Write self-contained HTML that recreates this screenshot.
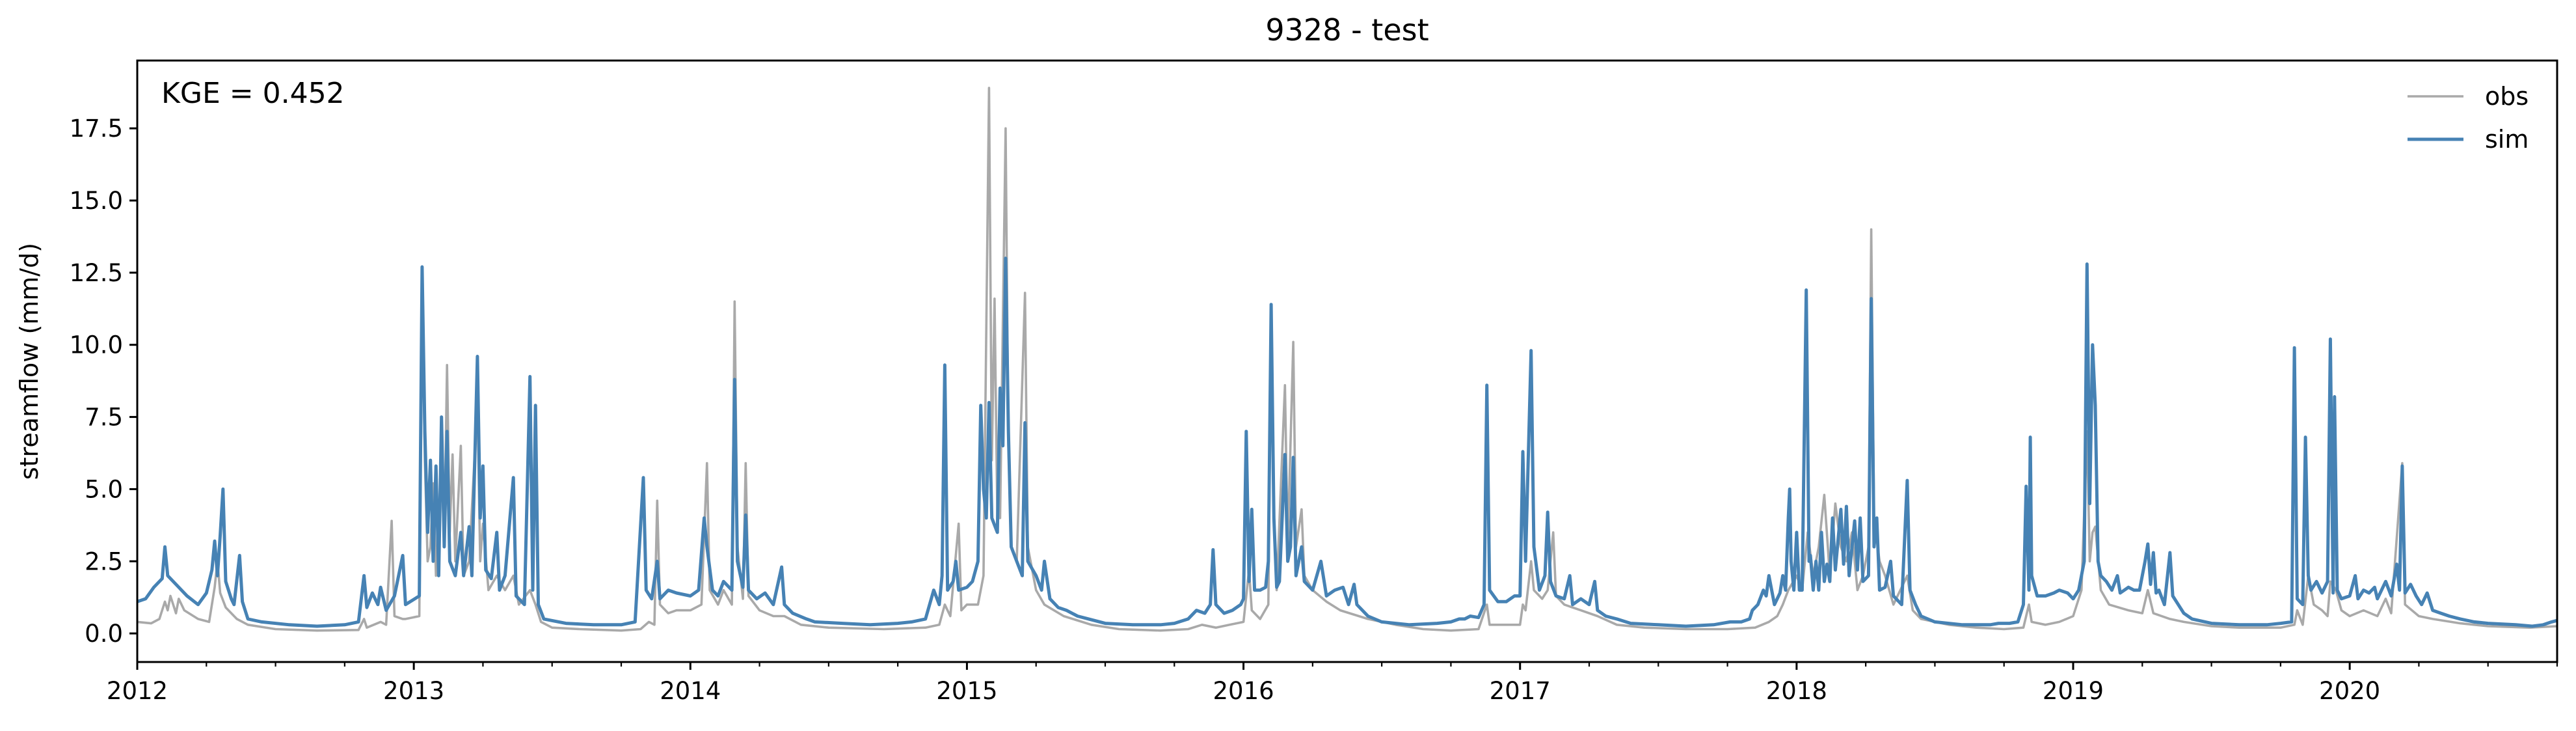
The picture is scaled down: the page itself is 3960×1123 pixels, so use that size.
<!DOCTYPE html>
<html><head><meta charset="utf-8"><style>
html,body{margin:0;padding:0;background:#fff;}
svg text{font-family:"DejaVu Sans","Liberation Sans",sans-serif;fill:#000;}
</style></head><body>
<svg id="chart" width="3960" height="1118" viewBox="0 0 3960 1118" xmlns="http://www.w3.org/2000/svg">
<rect width="3960" height="1118" fill="#fff"/>
<text x="2071" y="62" font-size="46" text-anchor="middle">9328 - test</text>
<text transform="translate(58,555) rotate(-90)" font-size="38" text-anchor="middle">streamflow (mm/d)</text>
<g id="plot"></g>
<g id="xaxis"></g>
<g id="yaxis"></g>
<rect x="211" y="93" width="3720" height="924" fill="none" stroke="#000" stroke-width="3"/>
<text x="248" y="158" font-size="44">KGE = 0.452</text>
<g>
<line x1="3701" y1="148" x2="3787" y2="148" stroke="#a9a9a9" stroke-width="3.5"/>
<text x="3820" y="161" font-size="38">obs</text>
<line x1="3701" y1="214" x2="3787" y2="214" stroke="#4682b4" stroke-width="5"/>
<text x="3820" y="227" font-size="38">sim</text>
</g>
</svg>
<script>
const yTicks=[0,2.5,5,7.5,10,12.5,15,17.5];
const yTickLabels=["0.0","2.5","5.0","7.5","10.0","12.5","15.0","17.5"];
const xYears=[2012,2013,2014,2015,2016,2017,2018,2019,2020];
const simT=[2012.00,2012.03,2012.06,2012.09,2012.10,2012.11,2012.15,2012.18,2012.22,2012.25,2012.27,2012.28,2012.29,2012.30,2012.31,2012.32,2012.34,2012.35,2012.37,2012.38,2012.40,2012.45,2012.55,2012.65,2012.75,2012.80,2012.82,2012.83,2012.85,2012.87,2012.88,2012.90,2012.93,2012.96,2012.97,
2013.02,2013.03,2013.04,2013.05,2013.06,2013.07,2013.08,2013.09,2013.10,2013.11,2013.12,2013.13,2013.15,2013.17,2013.18,2013.20,2013.21,2013.23,2013.24,2013.25,2013.26,2013.28,2013.30,2013.31,2013.33,2013.36,2013.37,2013.40,2013.42,2013.43,2013.44,2013.45,2013.47,2013.55,2013.65,2013.75,2013.80,2013.83,2013.84,2013.86,2013.88,2013.89,2013.92,2013.95,
2014.00,2014.03,2014.05,2014.06,2014.08,2014.10,2014.12,2014.15,2014.16,2014.17,2014.19,2014.20,2014.21,2014.24,2014.27,2014.30,2014.33,2014.34,2014.37,2014.42,2014.45,2014.55,2014.65,2014.75,2014.80,2014.85,2014.88,2014.90,2014.91,2014.92,2014.93,2014.95,2014.96,2014.97,
2015.00,2015.02,2015.04,2015.05,2015.06,2015.07,2015.08,2015.09,2015.11,2015.12,2015.13,2015.14,2015.15,2015.16,2015.18,2015.20,2015.21,2015.22,2015.25,2015.27,2015.28,2015.30,2015.33,2015.36,2015.40,2015.44,2015.50,2015.60,2015.70,2015.75,2015.80,2015.83,2015.86,2015.88,2015.89,2015.90,2015.93,2015.96,2015.99,
2016.00,2016.01,2016.02,2016.03,2016.04,2016.06,2016.08,2016.09,2016.10,2016.11,2016.12,2016.13,2016.15,2016.16,2016.17,2016.18,2016.19,2016.21,2016.22,2016.25,2016.28,2016.30,2016.33,2016.36,2016.38,2016.40,2016.41,2016.45,2016.50,2016.60,2016.70,2016.75,2016.78,2016.80,2016.82,2016.85,2016.87,2016.88,2016.89,2016.92,2016.95,2016.98,
2017.00,2017.01,2017.02,2017.04,2017.05,2017.07,2017.09,2017.10,2017.11,2017.13,2017.16,2017.18,2017.19,2017.22,2017.25,2017.27,2017.28,2017.31,2017.35,2017.40,2017.50,2017.60,2017.70,2017.76,2017.80,2017.83,2017.84,2017.86,2017.88,2017.89,2017.90,2017.92,2017.94,2017.95,2017.96,2017.97,2017.975,2017.98,2017.99,
2018.00,2018.01,2018.02,2018.035,2018.045,2018.05,2018.06,2018.07,2018.08,2018.09,2018.10,2018.11,2018.12,2018.13,2018.14,2018.16,2018.17,2018.18,2018.19,2018.21,2018.22,2018.23,2018.24,2018.26,2018.27,2018.28,2018.29,2018.30,2018.32,2018.34,2018.35,2018.38,2018.40,2018.41,2018.43,2018.45,2018.50,2018.60,2018.70,2018.73,2018.77,2018.80,2018.82,2018.83,2018.84,2018.845,2018.85,2018.87,2018.90,2018.93,2018.95,2018.98,
2019.00,2019.02,2019.04,2019.05,2019.06,2019.07,2019.08,2019.09,2019.10,2019.12,2019.14,2019.16,2019.17,2019.20,2019.22,2019.24,2019.26,2019.27,2019.28,2019.29,2019.30,2019.31,2019.33,2019.35,2019.36,2019.38,2019.40,2019.43,2019.50,2019.60,2019.70,2019.75,2019.79,2019.80,2019.81,2019.83,2019.84,2019.85,2019.86,2019.88,2019.90,2019.92,2019.93,2019.94,2019.945,2019.955,2019.97,
2020.00,2020.02,2020.03,2020.05,2020.07,2020.09,2020.10,2020.13,2020.15,2020.17,2020.18,2020.19,2020.20,2020.22,2020.24,2020.26,2020.28,2020.30,2020.33,2020.36,2020.40,2020.45,2020.50,2020.60,2020.66,2020.70,2020.73,2020.75];
const simV=[1.1,1.2,1.6,1.9,3.0,2.0,1.6,1.3,1.0,1.4,2.2,3.2,2.0,3.4,5.0,1.8,1.2,1.0,2.7,1.1,0.5,0.4,0.3,0.25,0.3,0.4,2.0,0.9,1.4,1.0,1.6,0.8,1.3,2.7,1.0,
1.3,12.7,7,3.5,6.0,2.5,5.8,2.0,7.5,3.0,7.0,2.5,2.0,3.5,2.0,3.7,2.0,9.6,4,5.8,2.2,1.9,3.5,1.5,2.0,5.4,1.3,1.0,8.9,1.5,7.9,1.0,0.5,0.35,0.3,0.3,0.4,5.4,1.5,1.2,2.5,1.2,1.5,1.4,
1.3,1.5,4.0,3.0,1.5,1.3,1.8,1.5,8.8,2.5,1.6,4.1,1.5,1.2,1.4,1.0,2.3,1.0,0.7,0.5,0.4,0.35,0.3,0.35,0.4,0.5,1.5,1.0,2.0,9.3,1.5,1.8,2.5,1.5,
1.6,1.8,2.5,7.9,5,4,8.0,4.0,3.5,8.5,6.5,13.0,7.0,3.0,2.5,2.0,7.3,2.5,2.0,1.5,2.5,1.2,0.9,0.8,0.6,0.5,0.35,0.3,0.3,0.35,0.5,0.8,0.7,1.0,2.9,1.0,0.7,0.8,1.0,
1.2,7.0,1.8,4.3,1.5,1.5,1.6,2.5,11.4,4.0,1.6,1.8,6.2,2.5,3.0,6.1,2.0,3.0,1.8,1.5,2.5,1.3,1.5,1.6,1.0,1.7,1.0,0.6,0.4,0.3,0.35,0.4,0.5,0.5,0.6,0.55,1.0,8.6,1.5,1.1,1.1,1.3,
1.3,6.3,2.5,9.8,3.0,1.5,2.0,4.2,1.8,1.3,1.2,2.0,1.0,1.2,1.0,1.8,0.8,0.6,0.5,0.35,0.3,0.25,0.3,0.4,0.4,0.5,0.8,1.0,1.5,1.3,2.0,1.0,1.4,2.0,1.5,4.0,5.0,2.5,1.5,
3.5,1.5,1.5,11.9,2.5,2.7,1.5,2.5,1.5,3.5,1.8,2.4,1.8,4.0,2.2,4.3,2.4,4.4,2.0,3.9,2.2,4.0,1.8,2.0,11.6,3.0,4.0,1.5,1.6,2.5,1.3,1.0,5.3,1.5,1.0,0.6,0.4,0.3,0.3,0.35,0.35,0.4,1.0,5.1,1.5,6.8,2.0,1.3,1.3,1.4,1.5,1.4,
1.2,1.5,2.5,12.8,4.5,10.0,7.9,2.5,2.0,1.8,1.5,2.0,1.4,1.6,1.5,1.5,2.5,3.1,1.7,2.8,1.4,1.5,1.0,2.8,1.3,1.0,0.7,0.5,0.35,0.3,0.3,0.35,0.4,9.9,1.2,1.0,6.8,2.0,1.5,1.8,1.4,1.8,10.2,1.4,8.2,1.5,1.2,
1.3,2.0,1.2,1.5,1.4,1.6,1.2,1.8,1.3,2.4,1.5,5.8,1.4,1.7,1.3,1.0,1.4,0.8,0.7,0.6,0.5,0.4,0.35,0.3,0.25,0.3,0.4,0.45];
const obsT=[2012.00,2012.05,2012.08,2012.10,2012.11,2012.12,2012.14,2012.15,2012.17,2012.22,2012.26,2012.28,2012.29,2012.30,2012.32,2012.36,2012.40,2012.50,2012.65,2012.80,2012.82,2012.83,2012.88,2012.90,2012.92,2012.93,2012.96,2012.97,
2013.02,2013.03,2013.04,2013.05,2013.06,2013.07,2013.08,2013.10,2013.11,2013.12,2013.13,2013.14,2013.15,2013.17,2013.18,2013.20,2013.23,2013.24,2013.25,2013.27,2013.30,2013.33,2013.36,2013.38,2013.42,2013.44,2013.46,2013.50,2013.60,2013.75,2013.82,2013.85,2013.87,2013.88,2013.89,2013.92,2013.95,
2014.00,2014.04,2014.06,2014.07,2014.10,2014.12,2014.15,2014.16,2014.17,2014.19,2014.20,2014.21,2014.25,2014.30,2014.34,2014.40,2014.50,2014.70,2014.85,2014.90,2014.92,2014.94,2014.97,2014.98,
2015.00,2015.04,2015.06,2015.08,2015.09,2015.10,2015.11,2015.12,2015.14,2015.15,2015.16,2015.18,2015.21,2015.22,2015.25,2015.28,2015.35,2015.45,2015.55,2015.70,2015.80,2015.85,2015.90,2015.95,
2016.00,2016.02,2016.03,2016.06,2016.09,2016.10,2016.11,2016.12,2016.15,2016.16,2016.18,2016.19,2016.21,2016.22,2016.25,2016.30,2016.35,2016.45,2016.55,2016.65,2016.75,2016.85,2016.88,2016.89,2016.95,
2017.00,2017.01,2017.02,2017.04,2017.05,2017.08,2017.10,2017.12,2017.13,2017.16,2017.22,2017.28,2017.35,2017.45,2017.60,2017.75,2017.85,2017.90,2017.93,2017.95,2017.97,
2018.00,2018.02,2018.04,2018.06,2018.08,2018.10,2018.12,2018.14,2018.16,2018.18,2018.20,2018.22,2018.24,2018.26,2018.27,2018.28,2018.30,2018.32,2018.35,2018.40,2018.42,2018.45,2018.55,2018.65,2018.75,2018.82,2018.84,2018.85,2018.90,2018.95,
2019.00,2019.03,2019.05,2019.06,2019.07,2019.08,2019.10,2019.13,2019.20,2019.25,2019.27,2019.29,2019.35,2019.40,2019.50,2019.60,2019.75,2019.80,2019.81,2019.83,2019.85,2019.87,2019.90,2019.92,2019.93,2019.95,2019.97,
2020.00,2020.05,2020.10,2020.13,2020.15,2020.19,2020.20,2020.25,2020.30,2020.40,2020.50,2020.65,2020.75];
const obsV=[0.4,0.35,0.5,1.1,0.8,1.3,0.7,1.2,0.8,0.5,0.4,1.6,2.5,1.4,0.9,0.5,0.3,0.15,0.1,0.12,0.5,0.2,0.4,0.3,3.9,0.6,0.5,0.5,
0.6,12.3,6,2.5,3.0,5.2,2.0,6.0,3.0,9.3,3.5,6.2,2.5,6.5,2.0,2.5,8.0,2.5,3.8,1.5,2.0,1.5,2.0,1.0,1.5,1.0,0.4,0.2,0.15,0.1,0.15,0.4,0.3,4.6,1.0,0.7,0.8,
0.8,1.0,5.9,1.5,1.0,1.5,1.0,11.5,3.0,1.2,5.9,1.3,0.8,0.6,0.6,0.3,0.2,0.15,0.2,0.3,1.0,0.6,3.8,0.8,
1.0,1.0,2.0,18.9,6,11.6,4.0,4.0,17.5,6.5,3.0,2.5,11.8,3.0,1.5,1.0,0.6,0.3,0.15,0.1,0.15,0.3,0.2,0.3,
0.4,2.2,0.8,0.5,1.0,11.0,4,1.5,8.6,3.0,10.1,3.0,4.3,2.0,1.5,1.1,0.8,0.5,0.3,0.15,0.1,0.15,1.0,0.3,0.3,
0.3,1.0,0.8,2.5,1.5,1.2,1.5,3.5,1.3,1.0,0.8,0.6,0.3,0.2,0.15,0.15,0.2,0.4,0.6,1.0,1.5,
2.0,1.5,3.5,2.0,3.0,4.8,2.0,4.5,3.0,2.5,3.5,1.5,2.0,3.0,14.0,4.0,2.5,2.0,1.0,2.0,0.8,0.5,0.3,0.2,0.15,0.2,1.0,0.4,0.3,0.4,
0.6,1.5,7.0,2.5,3.5,3.7,1.5,1.0,0.8,0.7,1.5,0.7,0.5,0.4,0.25,0.2,0.2,0.3,0.8,0.3,2.0,1.0,0.8,0.6,1.8,1.5,0.8,
0.6,0.8,0.6,1.2,0.7,5.9,1.0,0.6,0.5,0.35,0.25,0.2,0.25];

const X0=211,X1=3931,Y0=93,Y1=1017,T0=2012,T1=2020.75,V0=-0.99,V1=19.85;
function xs(t){return X0+(t-T0)/(T1-T0)*(X1-X0);}
function ys(v){return Y1-(v-V0)/(V1-V0)*(Y1-Y0);}
const NS="http://www.w3.org/2000/svg";
function mk(tag,attrs,parent){const e=document.createElementNS(NS,tag);for(const k in attrs)e.setAttribute(k,attrs[k]);parent.appendChild(e);return e;}
const plot=document.getElementById('plot'),xa=document.getElementById('xaxis'),ya=document.getElementById('yaxis');
function pathFor(T,V){let d='';for(let i=0;i<T.length;i++){d+=(i?'L':'M')+xs(T[i]).toFixed(1)+','+ys(V[i]).toFixed(1);}return d;}
const po=mk('path',{d:pathFor(obsT,obsV),fill:'none',stroke:'#a9a9a9','stroke-width':3.6,'stroke-linejoin':'round'},plot);


const ps=mk('path',{d:pathFor(simT,simV),fill:'none',stroke:'#4682b4','stroke-width':5,'stroke-linejoin':'round'},plot);


yTicks.forEach((v,i)=>{
  const y=ys(v);
  const l=mk('line',{x1:X0-12,x2:X0,y1:y,y2:y,stroke:'#000','stroke-width':3},ya);
  
  
  const t=mk('text',{x:X0-22,y:y+13,'font-size':37,'text-anchor':'end'},ya);
  t.textContent=yTickLabels[i];
  
  
});
xYears.forEach(yr=>{
  const x=xs(yr);
  const l=mk('line',{x1:x,x2:x,y1:Y1,y2:Y1+12,stroke:'#000','stroke-width':3},xa);
  
  
  const t=mk('text',{x:x,y:Y1+57,'font-size':37,'text-anchor':'middle'},xa);
  t.textContent=String(yr);
  
  
  [0.25,0.5,0.75].forEach(f=>{
    if(yr+f<=T1){
      const m=mk('line',{x1:xs(yr+f),x2:xs(yr+f),y1:Y1,y2:Y1+7,stroke:'#000','stroke-width':2.2},xa);
      
      
    }
  });
});
</script>
</body></html>
